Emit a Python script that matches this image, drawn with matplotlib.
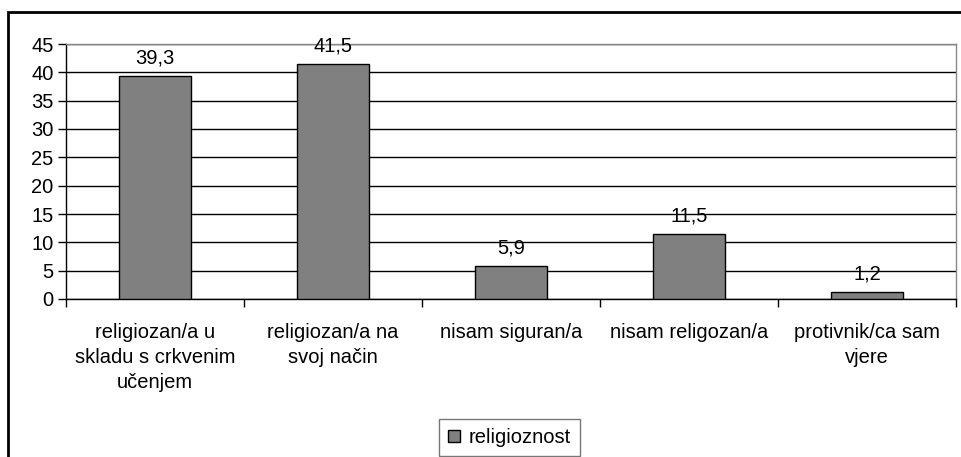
import numpy as np
import matplotlib.pyplot as plt
from matplotlib.patches import Rectangle

categories = ['religiozan/a u\nskladu s crkvenim\nučenjem',
              'religiozan/a na\nsvoj način',
              'nisam siguran/a',
              'nisam religozan/a',
              'protivnik/ca sam\nvjere']
values = [39.3, 41.5, 5.9, 11.5, 1.2]
value_labels = ['39,3', '41,5', '5,9', '11,5', '1,2']
series_name = 'religioznost'

plt.rcParams['font.family'] = ['Liberation Sans', 'DejaVu Sans']
fs = 14.5

W, H = 962, 457
fig = plt.figure(figsize=(W / 100, H / 100), dpi=100)
fig.patch.set_facecolor('white')

# outer chart border (runs off the right and bottom edges)
fig.patches.append(Rectangle((8 / W, -0.1), 1.2, 1 - 12 / H + 0.1,
                             transform=fig.transFigure, fill=False,
                             edgecolor='black', linewidth=2))

left, right, top, bottom = 66, 956, 44, 299
ax = fig.add_axes([left / W, 1 - bottom / H, (right - left) / W, (bottom - top) / H])

x = np.arange(len(categories))
bars = ax.bar(x, values, width=0.4, color='#808080', edgecolor='black',
              linewidth=1, zorder=3, label=series_name)

for xi, v, lab in zip(x, values, value_labels):
    ax.annotate(lab, (xi, v), xytext=(0, 6), textcoords='offset points',
                ha='center', va='bottom', fontsize=fs)

ax.set_xlim(-0.5, len(categories) - 0.5)
ax.set_ylim(0, 45)
ax.set_yticks(np.arange(0, 46, 5))
ax.yaxis.grid(True, color='black', linewidth=1, zorder=0)
ax.tick_params(axis='y', labelsize=fs, length=6, width=1, direction='out', pad=3)

ax.set_xticks(x)
ax.set_xticklabels([])
ax.set_xticks(np.arange(-0.5, len(categories), 1), minor=True)
ax.tick_params(axis='x', which='major', length=0)
ax.tick_params(axis='x', which='minor', length=6, width=1, direction='out')

for xi, c in zip(x, categories):
    ax.text(xi, -0.095, c, transform=ax.get_xaxis_transform(), ha='center', va='top',
            fontsize=fs, linespacing=1.4)

ax.spines['left'].set_color('black')
ax.spines['bottom'].set_color('black')
ax.spines['top'].set_color('#888888')
ax.spines['right'].set_color('#888888')
for s in ax.spines.values():
    s.set_linewidth(1)

leg = fig.legend(handles=[bars], labels=[series_name], loc='center',
                 bbox_to_anchor=(509.5 / W, 1 - 437.5 / H), frameon=True, fancybox=False,
                 fontsize=fs, handlelength=0.6, handleheight=0.6, handletextpad=0.4,
                 borderpad=0.45, borderaxespad=0)
leg.get_frame().set_edgecolor('#555555')
leg.get_frame().set_linewidth(1)

fig.savefig('out.png', dpi=100)
